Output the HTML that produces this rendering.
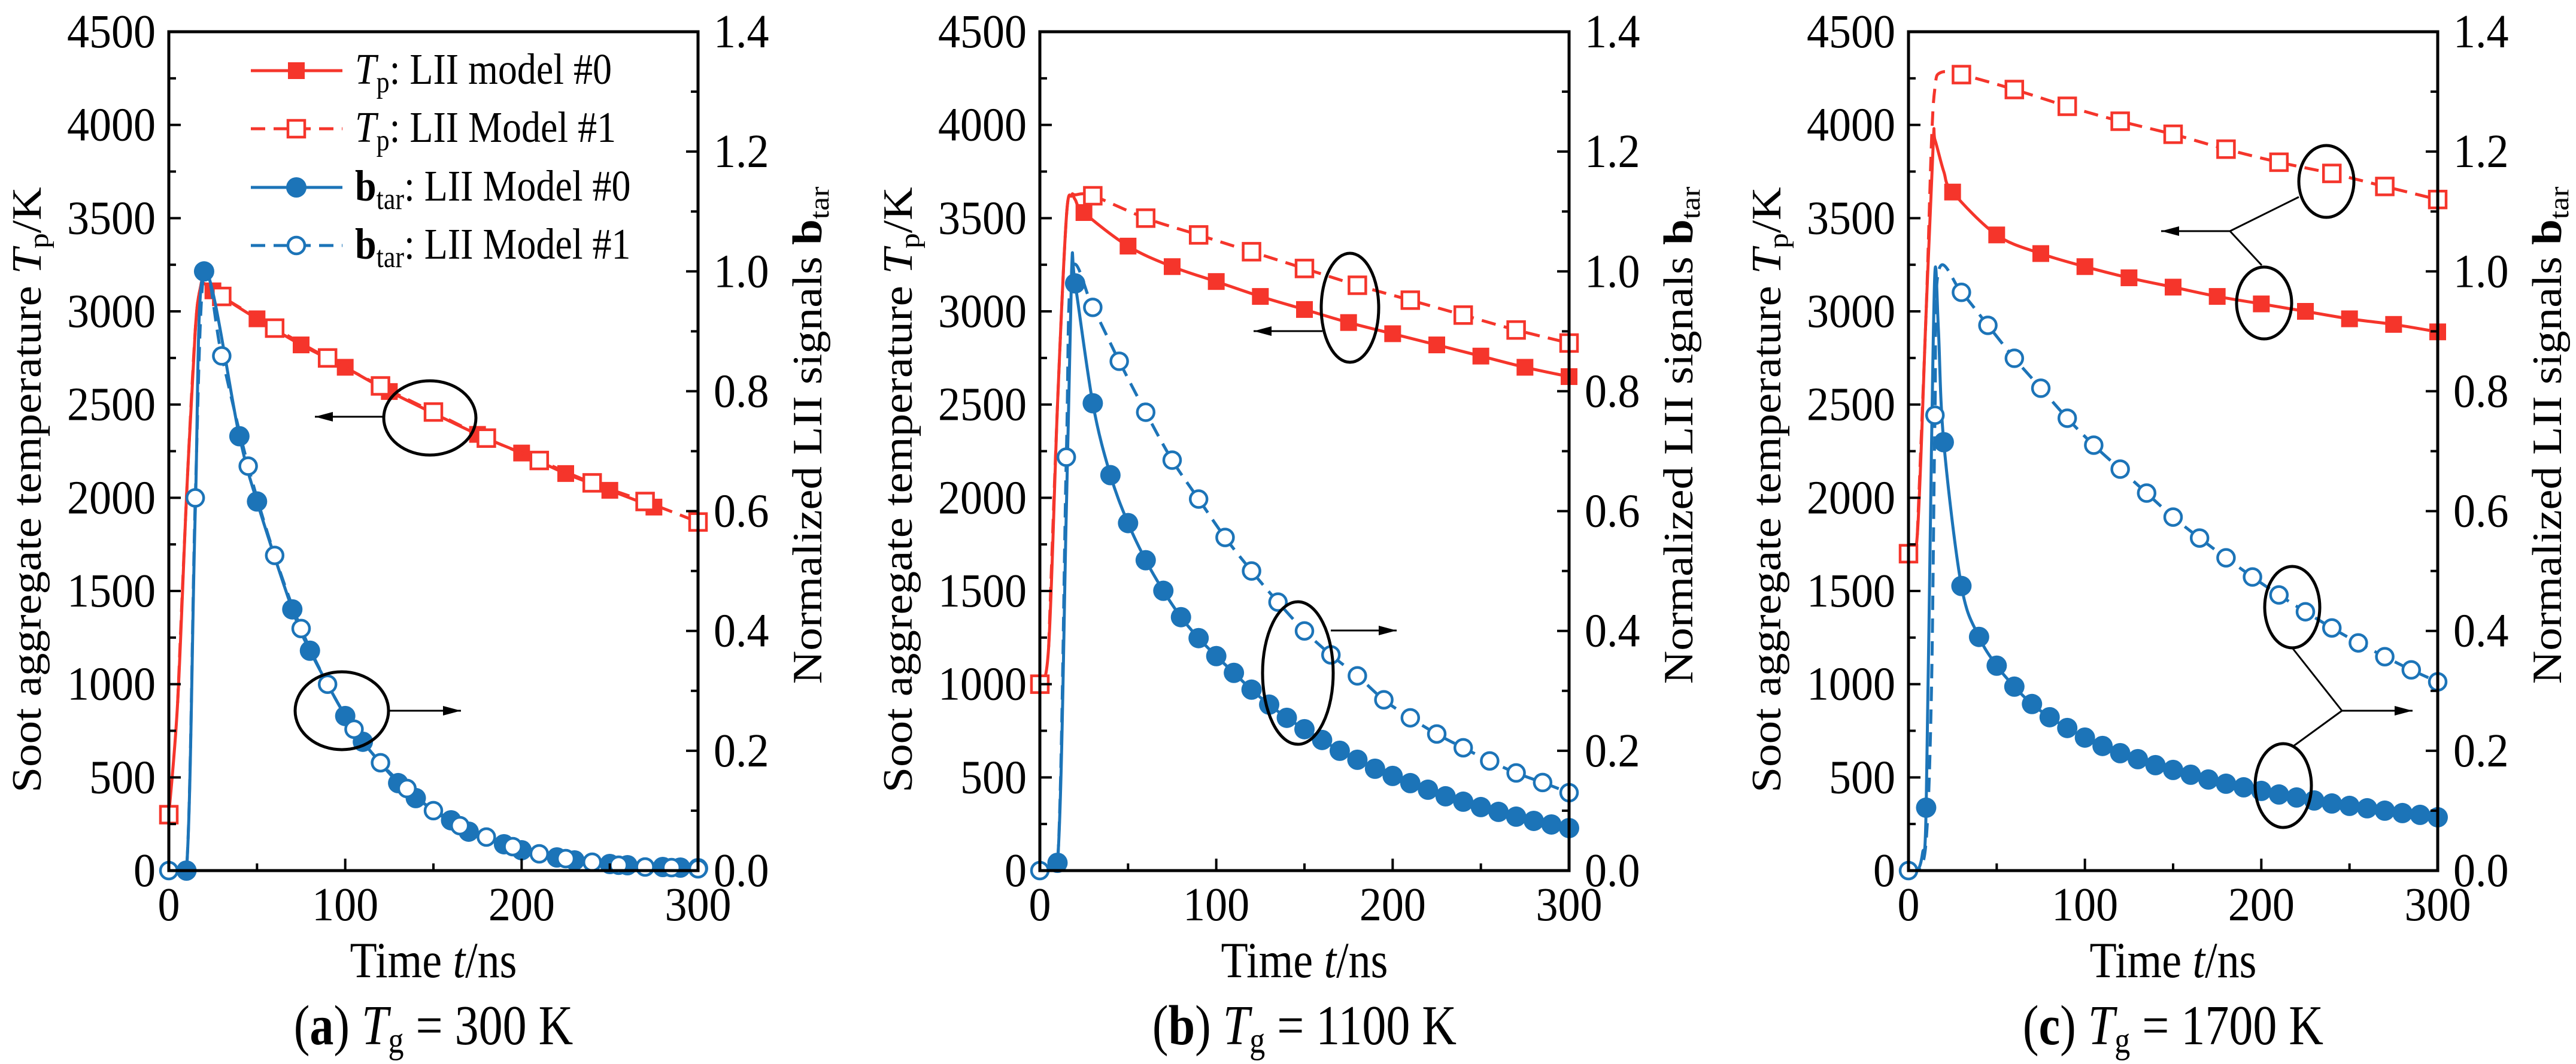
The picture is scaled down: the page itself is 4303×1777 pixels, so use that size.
<!DOCTYPE html>
<html><head><meta charset="utf-8"><style>
html,body{margin:0;padding:0;background:#fff}
svg{display:block}
text{font-family:"Liberation Serif",serif;fill:#000}
</style></head><body>
<svg id="chart" width="4303" height="1777" viewBox="0 0 4303 1777" xmlns="http://www.w3.org/2000/svg"></svg>
<script>
// ---- data (time in ns, Tp in K, b normalized) ----
const xTicks=[0,100,200,300];
const yLeftTicks=[0,500,1000,1500,2000,2500,3000,3500,4000,4500];
const yRightTicks=["0.0","0.2","0.4","0.6","0.8","1.0","1.2","1.4"];
const captions=[["a","300"],["b","1100"],["c","1700"]];

// panel a
const a_tp0_riseT=[0,5,10,15,18,20], a_tp0_riseV=[300,900,2000,2900,3130,3150];
const a_tp0_T=[25,50,75,100,125,175,200,225,250,275], a_tp0_V=[3110,2960,2820,2700,2570,2340,2240,2130,2040,1950];
const a_tp1_riseT=[5,10,15,18,20], a_tp1_riseV=[900,2000,2900,3130,3150];
const a_tp1_T=[0,30,60,90,120,150,180,210,240,270,300], a_tp1_V=[300,3080,2910,2750,2600,2460,2320,2200,2080,1980,1870];
const a_b0_riseT=[0,10,15,20], a_b0_riseV=[0,0,0.6,1.0];
const a_b0_T=[10,20,40,50,70,80,100,110,130,140,160,170,190,200,220,230,250,260,280,290,300];
const a_b0_V=[0,1.0,0.725,0.616,0.436,0.367,0.258,0.215,0.146,0.121,0.084,0.065,0.044,0.034,0.022,0.017,0.011,0.009,0.006,0.005,0.004];
const a_b1_riseT=[0,10,15,20], a_b1_riseV=[0,0,0.62,1.0];
const a_b1_T=[0,15,30,45,60,75,90,105,120,135,150,165,180,195,210,225,240,255,270,285,300];
const a_b1_V=[0,0.622,0.859,0.675,0.526,0.404,0.311,0.236,0.18,0.137,0.1,0.075,0.056,0.04,0.028,0.02,0.014,0.009,0.006,0.005,0.003];

// panel b
const b_tp0_riseT=[0,5,10,15,18,20], b_tp0_riseV=[1000,1200,2500,3500,3620,3600];
const b_tp0_T=[25,50,75,100,125,150,175,200,225,250,275,300], b_tp0_V=[3530,3350,3240,3160,3080,3010,2940,2880,2820,2760,2700,2650];
const b_tp1_riseT=[5,10,15,18,20], b_tp1_riseV=[1200,2500,3500,3620,3625];
const b_tp1_T=[0,30,60,90,120,150,180,210,240,270,300], b_tp1_V=[1000,3620,3500,3410,3320,3230,3140,3060,2980,2900,2830];
const b_b0_riseT=[0,10,15,18], b_b0_riseV=[0,0.013,0.6,1.0];
const b_b0_T=[10,20,30,40,50,60,70,80,90,100,110,120,130,140,150,160,170,180,190,200,210,220,230,240,250,260,270,280,290,300];
const b_b0_V=[0.013,0.98,0.78,0.66,0.58,0.518,0.467,0.423,0.388,0.358,0.33,0.302,0.277,0.255,0.236,0.218,0.2,0.185,0.17,0.158,0.146,0.135,0.124,0.115,0.106,0.098,0.09,0.083,0.077,0.071];
const b_b1_riseT=[0,10,15,18], b_b1_riseV=[0,0.01,0.69,1.0];
const b_b1_T=[0,15,30,45,60,75,90,105,120,135,150,165,180,195,210,225,240,255,270,285,300];
const b_b1_V=[0,0.69,0.94,0.85,0.765,0.685,0.62,0.556,0.5,0.448,0.4,0.36,0.325,0.285,0.255,0.228,0.205,0.183,0.163,0.147,0.13];

// panel c
const c_tp0_riseT=[0,5,10,14,15,20], c_tp0_riseV=[1700,1800,3000,3900,3920,3750];
const c_tp0_T=[25,50,75,100,125,150,175,200,225,250,275,300], c_tp0_V=[3640,3410,3310,3240,3180,3130,3080,3040,3000,2960,2930,2890];
const c_tp1_riseT=[5,10,13,15,18], c_tp1_riseV=[1800,3000,3900,4200,4280];
const c_tp1_T=[0,30,60,90,120,150,180,210,240,270,300], c_tp1_V=[1700,4270,4190,4100,4020,3950,3870,3800,3740,3670,3600];
const c_b0_riseT=[0,5,8,10,13,15,17], c_b0_riseV=[0,0,0.03,0.105,0.7,1.0,0.9];
const c_b0_T=[10,20,30,40,50,60,70,80,90,100,110,120,130,140,150,160,170,180,190,200,210,220,230,240,250,260,270,280,290,300];
const c_b0_V=[0.105,0.715,0.475,0.39,0.342,0.307,0.278,0.256,0.238,0.222,0.208,0.196,0.186,0.176,0.168,0.16,0.152,0.145,0.139,0.133,0.127,0.122,0.117,0.112,0.108,0.104,0.1,0.096,0.093,0.089];
const c_b1_riseT=[0,5,10,13,15,17], c_b1_riseV=[0,0,0.05,0.3,0.76,1.0];
const c_b1_T=[0,15,30,45,60,75,90,105,120,135,150,165,180,195,210,225,240,255,270,285,300];
const c_b1_V=[0,0.76,0.965,0.91,0.855,0.805,0.755,0.71,0.67,0.63,0.59,0.555,0.522,0.49,0.46,0.432,0.405,0.38,0.357,0.335,0.315];

const panelData=[
 {tp0:[a_tp0_riseT,a_tp0_riseV,a_tp0_T,a_tp0_V],tp1:[a_tp1_riseT,a_tp1_riseV,a_tp1_T,a_tp1_V],b0:[a_b0_riseT,a_b0_riseV,a_b0_T,a_b0_V],b1:[a_b1_riseT,a_b1_riseV,a_b1_T,a_b1_V]},
 {tp0:[b_tp0_riseT,b_tp0_riseV,b_tp0_T,b_tp0_V],tp1:[b_tp1_riseT,b_tp1_riseV,b_tp1_T,b_tp1_V],b0:[b_b0_riseT,b_b0_riseV,b_b0_T,b_b0_V],b1:[b_b1_riseT,b_b1_riseV,b_b1_T,b_b1_V]},
 {tp0:[c_tp0_riseT,c_tp0_riseV,c_tp0_T,c_tp0_V],tp1:[c_tp1_riseT,c_tp1_riseV,c_tp1_T,c_tp1_V],b0:[c_b0_riseT,c_b0_riseV,c_b0_T,c_b0_V],b1:[c_b1_riseT,c_b1_riseV,c_b1_T,c_b1_V]}
];

// ---- layout ----
const NS="http://www.w3.org/2000/svg";
const svg=document.getElementById('chart');
const RED="#f5352b", BLUE="#1c74b8";
const panelX=[282,1737,3188], PW=884, TOP=53, BOT=1454;
const SY=1.12;
function el(tag,attrs,parent,txt){const e=document.createElementNS(NS,tag);for(const k in attrs)e.setAttribute(k,attrs[k]);if(txt!==undefined)e.textContent=txt;(parent||svg).appendChild(e);return e;}
function txt(parent,x,y,size,anchor,html,sy){
  const t=el('text',{transform:`translate(${x},${y}) scale(1,${sy||SY})`,x:0,y:0,'font-size':size,'text-anchor':anchor||'start'},parent);
  t.innerHTML=html;return t;
}
function smoothPath(pts){
  let d=`M${pts[0][0]},${pts[0][1]}`;
  for(let i=0;i<pts.length-1;i++){
    const p0=pts[Math.max(i-1,0)],p1=pts[i],p2=pts[i+1],p3=pts[Math.min(i+2,pts.length-1)];
    const c1=[p1[0]+(p2[0]-p0[0])/6,p1[1]+(p2[1]-p0[1])/6];
    const c2=[p2[0]-(p3[0]-p1[0])/6,p2[1]-(p3[1]-p1[1])/6];
    d+=` C${c1[0].toFixed(1)},${c1[1].toFixed(1)} ${c2[0].toFixed(1)},${c2[1].toFixed(1)} ${p2[0].toFixed(1)},${p2[1].toFixed(1)}`;
  }
  return d;
}
function marker(parent,shape,filled,col,cx,cy){
  if(shape==='square') return el('rect',{x:cx-14,y:cy-14,width:28,height:28,fill:filled?col:'#fff',stroke:col,'stroke-width':filled?0:4.5},parent);
  return el('circle',{cx:cx,cy:cy,r:filled?17:14,fill:filled?col:'#fff',stroke:col,'stroke-width':filled?0:4.5},parent);
}

panelData.forEach((pd,pi)=>{
  const x0=panelX[pi], x1=x0+PW;
  const g=el('g',{},svg);
  
  
  const xs=t=>x0+t/300*PW;
  const yL=v=>BOT-v/4500*(BOT-TOP);
  const yR=v=>BOT-v/1.4*(BOT-TOP);
  const clip=el('clipPath',{id:'clip'+pi},g);
  el('rect',{x:x0,y:TOP,width:PW,height:BOT-TOP},clip);

  const series=[['tp0',yL,RED,false,'square',true],['tp1',yL,RED,true,'square',false],['b0',yR,BLUE,false,'circle',true],['b1',yR,BLUE,true,'circle',false]];
  series.forEach(([key,ys,col,dashed,shape,filled])=>{
    const [rT,rV,mT,mV]=pd[key];
    const last=rT[rT.length-1];
    let pts=rT.map((t,i)=>[xs(t),ys(rV[i])]);
    mT.forEach((t,i)=>{if(t>last)pts.push([xs(t),ys(mV[i])]);});
    const p=el('path',{d:smoothPath(pts),fill:'none',stroke:col,'stroke-width':5,'stroke-dasharray':dashed?'24 14':'none','clip-path':`url(#clip${pi})`},g);
    
    
    mT.forEach((t,i)=>{
      const m=marker(g,shape,filled,col,xs(t),ys(mV[i]));
      
      
    });
  });

  const fr=el('rect',{x:x0,y:TOP,width:PW,height:BOT-TOP,fill:'none',stroke:'#000','stroke-width':5},g);
  
  
  for(let t=0;t<=300;t+=50){
    const x=xs(t),len=t%100===0?20:12;
    el('line',{x1:x,y1:BOT,x2:x,y2:BOT-len,stroke:'#000','stroke-width':4},g);
  }
  xTicks.forEach(t=>{
    const tx=txt(g,xs(t),1537,74,'middle',String(t),1.07);
    
    
  });
  for(let v=0;v<=4500;v+=250){
    const y=yL(v),len=v%500===0?20:12;
    el('line',{x1:x0,y1:y,x2:x0+len,y2:y,stroke:'#000','stroke-width':4},g);
  }
  yLeftTicks.forEach(v=>{
    const tx=txt(g,x0-22,yL(v)+26,74,'end',String(v),1.07);
    
    
  });
  for(let i=0;i<=14;i++){
    const y=yR(i*0.1),len=i%2===0?20:12;
    el('line',{x1:x1,y1:y,x2:x1-len,y2:y,stroke:'#000','stroke-width':4},g);
  }
  yRightTicks.forEach(s=>{
    const tx=txt(g,x1+26,yR(parseFloat(s))+26,74,'start',s,1.07);
    
    
  });
  const xt=txt(g,(x0+x1)/2,1632,74,'middle','Time <tspan font-style="italic">t</tspan>/ns',1.15);
  
  
  const ylt=el('text',{transform:`translate(${x0-214},818) rotate(-90) scale(1.1,1)`,'font-size':70,'text-anchor':'middle'},g);
  ylt.innerHTML='Soot aggregate temperature <tspan font-style="italic">T</tspan><tspan font-size="47" dy="12">p</tspan><tspan dy="-12">/K</tspan>';
  
  
  const yrt=el('text',{transform:`translate(${x1+206},727) rotate(-90) scale(1.1,1)`,'font-size':70,'text-anchor':'middle'},g);
  yrt.innerHTML='Normalized LII signals <tspan font-weight="bold">b</tspan><tspan font-size="47" dy="12">tar</tspan>';
  
  
  const cap=txt(g,(x0+x1)/2,1744,80,'middle',`(<tspan font-weight="bold">${captions[pi][0]}</tspan>) <tspan font-style="italic">T</tspan><tspan font-size="52" dy="12">g</tspan><tspan dy="-12"> = ${captions[pi][1]} K</tspan>`,1.18);
  
  
});

// ---- annotations ----
const defs=el('defs',{});
const mk=el('marker',{id:'arr',viewBox:'0 0 10 10',refX:10,refY:5,markerWidth:30,markerHeight:16,markerUnits:'userSpaceOnUse',orient:'auto',preserveAspectRatio:'none'},defs);
el('path',{d:'M0,0 L10,5 L0,10 z',fill:'#000'},mk);
function ell(cx,cy,rx,ry){const e=el('ellipse',{cx,cy,rx,ry,fill:'none',stroke:'#000','stroke-width':5});}
function ln(x1,y1,x2,y2,arrow){const e=el('line',{x1,y1,x2,y2,stroke:'#000','stroke-width':3});if(arrow)e.setAttribute('marker-end','url(#arr)');}
ell(718,698,77,62); ln(641,696,526,696,true);
ell(571,1187,78,65); ln(651,1187,770,1187,true);
ell(2255,514,48,91); ln(2209,553,2094,553,true);
ell(2168,1124,59,119); ln(2223,1053,2333,1053,true);
ell(3886,303,46,60); ell(3782,506,46,60);
ln(3840,329,3725,386); ln(3725,386,3778,443); ln(3725,386,3610,386,true);
ell(3829,1014,46,68); ell(3814,1312,47,70);
ln(3829,1082,3912,1187); ln(3912,1187,3831,1246); ln(3912,1187,4030,1187,true);

// ---- legend (panel a) ----
const leg=el('g',{});


const legItems=[[RED,false,'square',true,'<tspan font-style="italic">T</tspan><tspan font-size="44" dy="12">p</tspan><tspan dy="-12">: LII model #0</tspan>'],
 [RED,true,'square',false,'<tspan font-style="italic">T</tspan><tspan font-size="44" dy="12">p</tspan><tspan dy="-12">: LII Model #1</tspan>'],
 [BLUE,false,'circle',true,'<tspan font-weight="bold">b</tspan><tspan font-size="44" dy="12">tar</tspan><tspan dy="-12">: LII Model #0</tspan>'],
 [BLUE,true,'circle',false,'<tspan font-weight="bold">b</tspan><tspan font-size="44" dy="12">tar</tspan><tspan dy="-12">: LII Model #1</tspan>']];
const legY=[118,215,313,410];
legItems.forEach(([col,dashed,shape,filled,html],i)=>{
  const y=legY[i];
  const en=el('g',{},leg);
  
  
  el('line',{x1:419,y1:y,x2:572,y2:y,stroke:col,'stroke-width':5,'stroke-dasharray':dashed?'24 14':'none'},en);
  marker(en,shape,filled,col,495,y);
  txt(en,593,y+22,64,'start',html,1.15);
});
</script>
</body></html>
